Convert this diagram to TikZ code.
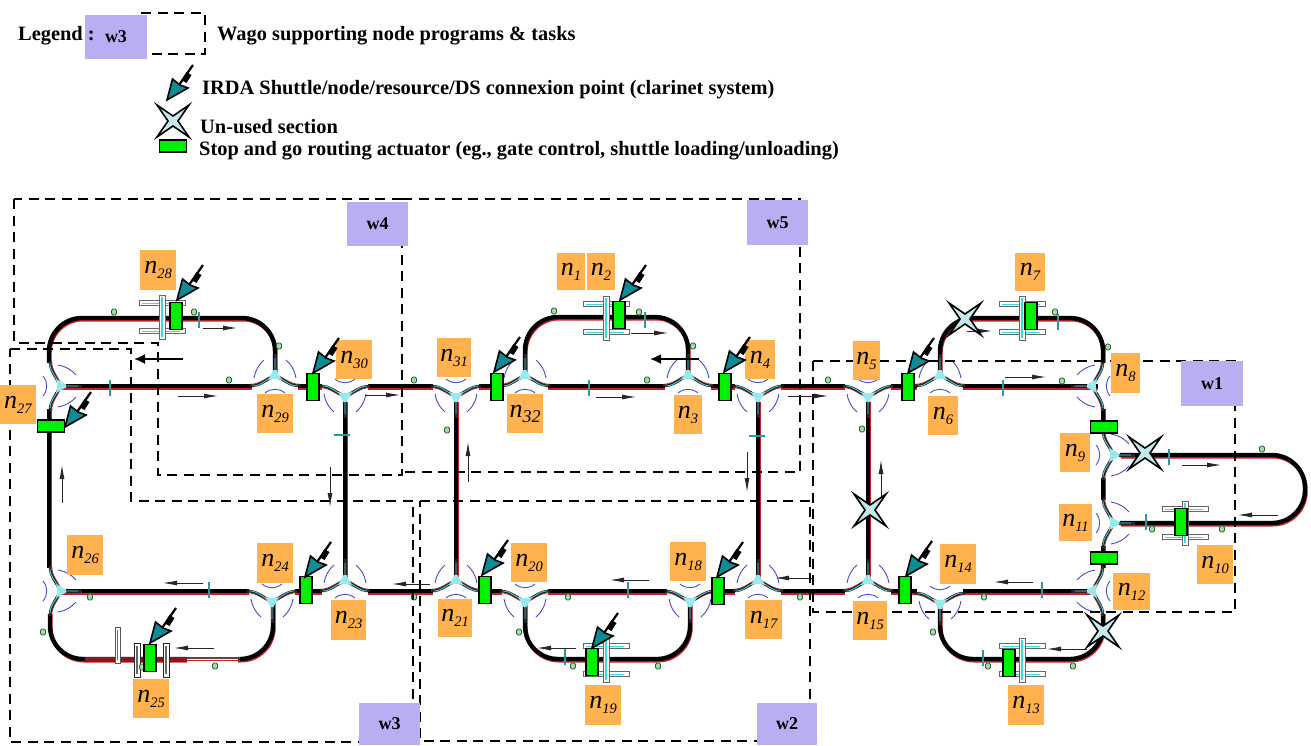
\documentclass[tikz,border=0pt]{standalone}
\usepackage{fontspec}
\setmainfont{Liberation Serif}
\usetikzlibrary{arrows.meta}
\definecolor{lilac}{HTML}{B9AEF2}
\definecolor{orng}{HTML}{FFB24D}
\definecolor{tealf}{HTML}{0E8C96}
\definecolor{starf}{HTML}{C5E8EC}
\definecolor{actg}{HTML}{00F000}
\definecolor{cyn}{HTML}{3FD8E0}
\definecolor{tkred}{HTML}{C8202A}
\definecolor{arcb}{HTML}{4A4AC8}
\definecolor{gblob}{HTML}{2E9A3A}
\tikzset{
  tkb/.style={draw=black,line width=4.4pt,rounded corners=33pt},
  tkr/.style={draw=tkred,line width=3.6pt,rounded corners=33pt,shift={(0.9,1.7)}},
  wbox/.style={draw=black,line width=2.1pt,dash pattern=on 10pt off 6.5pt},
  wlab/.style={fill=lilac,inner sep=0pt,font=\fontsize{18}{18}\selectfont\bfseries},
  olab/.style={fill=orng,inner sep=0pt,text=black},
  legt/.style={anchor=west,inner sep=0pt,font=\fontsize{20.4}{21}\selectfont\bfseries},
  act/.style={draw=black,fill=actg,line width=1.7pt},
  thinarr/.style={draw=black!85,line width=0.8pt,-{Latex[length=14pt,width=5pt]}},
  thickarr/.style={draw=black,line width=1.8pt,-{Latex[length=11pt,width=10pt]}},
  arcj/.style={draw=arcb,line width=0.9pt},
}
\newcommand\junc[3]{\begin{scope}[shift={(#1,#2)},rotate=#3]
  \fill[white] (-23,-15) rectangle (23,-5);
  \draw[tkred,line width=0.8pt] (-25,-8.3) .. controls (-14,-8.3) and (-9,-0.8) .. (0,1.2) .. controls (9,-0.8) and (14,-8.3) .. (25,-8.3);
  \draw[black!85,line width=2.8pt] (-25,-10) .. controls (-14,-10) and (-9,-3) .. (0,0) .. controls (9,-3) and (14,-10) .. (25,-10);
  \draw[black!85,line width=3pt] (0,-2) -- (0,22);
  \draw[cyn,line width=0.8pt] (-22,-10) .. controls (-14,-10) and (-9,-3) .. (0,0) .. controls (9,-3) and (14,-10) .. (22,-10) (0,-2) -- (0,18);
  \fill[cyn!55!white] (-7,-4) .. controls (-3,-2.5) and (3,-2.5) .. (7,-4) -- (1.5,6) -- (-1.5,6) -- cycle;
  \draw[arcj] (-10,-17) .. controls (-4,-12) and (4,-12) .. (10,-17);
  \draw[arcj] (-21,-2) .. controls (-20,5) and (-16,12) .. (-11,16);
  \draw[arcj] (21,-2) .. controls (20,5) and (16,12) .. (11,16);
\end{scope}}
\newcommand\swt[2]{\begin{scope}[shift={(#1,#2)}]
  \foreach \s in {-14,14}{\draw[black!60,fill=white,line width=1pt] (-23,\s-2.5) rectangle (23,\s+2.5);
    \draw[cyn,line width=1pt] (-20,\s) -- (18,\s);}
  \draw[black!60,line width=1pt,fill=white] (-3,-22) rectangle (3,22);
  \draw[cyn,line width=1.4pt] (0,-20) -- (0,20);
\end{scope}}
\newcommand\irda[2]{\begin{scope}[shift={(#1,#2)}]
  \draw[black,line width=2.2pt] (12,-15) -- (26,-35);
  \fill[black] (14.5,-20) -- (19.5,-17) -- (24.5,-25) -- (19.5,-28) -- cycle;
  \draw[black,line width=1.6pt,fill=tealf,line join=miter] (0,0) -- (5.5,-21) -- (13,-15) -- (21,-12) -- cycle;
\end{scope}}
\newcommand\starm[3]{\node[inner sep=0pt,minimum size=0pt] (#3) at (#1,#2) {};
  \draw[black,line width=1.6pt,fill=starf,miter limit=10] (#1-16,#2-16) -- (#1,#2-5) -- (#1+16,#2-16) -- (#1+5,#2) -- (#1+16,#2+16) -- (#1,#2+5) -- (#1-16,#2+16) -- (#1-5,#2) -- cycle;}
\newcommand\actv[3]{\node[act,minimum width=11.5pt,minimum height=27pt,inner sep=0pt] (#3) at (#1,#2) {};}
\newcommand\acth[3]{\node[act,minimum width=27pt,minimum height=11.5pt,inner sep=0pt] (#3) at (#1,#2) {};}
\newcommand\lbl[6]{\node[olab,anchor=center,minimum width=#3-#1,minimum height=#4-#2] (#5) at ({(#1+#3)/2},{(#2+#4)/2}) {\fontsize{26}{26}\selectfont\itshape n\raisebox{-5pt}{\fontsize{14.5}{16}\selectfont #6}};}
\newcommand\wl[6]{\node[wlab,minimum width=#3-#1,minimum height=#4-#2] (#5) at ({(#1+#3)/2},{(#2+#4)/2}) {#6};}
\begin{document}
\begin{tikzpicture}[x=1pt,y=-1pt]
\useasboundingbox (0,0) rectangle (1311,745);
% tracks
\foreach \st in {tkr,tkb}{
  \draw[\st,rounded corners=0pt] (60,386) -- (1103,386);
  \draw[\st,rounded corners=0pt] (60,591) -- (1093,591);
  \draw[\st,rounded corners=0pt] (49,400) -- (49,580);
  \draw[\st,rounded corners=0pt] (345,400) -- (345,578);
  \draw[\st,rounded corners=0pt] (456,400) -- (456,578);
  \draw[\st,rounded corners=0pt] (758,400) -- (758,578);
  \draw[\st,rounded corners=0pt] (868,400) -- (868,578);
  \draw[\st,rounded corners=0pt] (1103,380) -- (1103,600);
  \draw[\st] (49,395) -- (49,318) -- (275,318) -- (275,375);
  \draw[\st] (50,600) -- (50,659) -- (273,659) -- (273,600);
  \draw[\st] (525,375) -- (525,317) -- (688,317) -- (688,375);
  \draw[\st] (525,600) -- (525,659) -- (690,659) -- (690,600);
  \draw[\st] (940,375) -- (940,318) -- (1103,318) -- (1103,380);
  \draw[\st] (940,600) -- (940,659) -- (1103,659) -- (1103,600);
  \draw[\st] (1120,455) -- (1305,455) -- (1305,523) -- (1120,523);
}
\draw[tkred!70!black,line width=5pt] (85,659) -- (187,659);
\fill[white] (187,656) rectangle (238,663);
\draw[black!70,line width=1.5pt] (187,658) -- (240,658);
\draw[tkred,line width=0.8pt] (187,660) -- (240,660);
% junctions
\foreach \x/\y/\r in {60/386/90,60/591/90,275/376/180,272/601/0,345/396/0,456/396/0,
  525/376/180,690/601/0,688/376/180,525/601/0,758/396/0,868/396/0,940/376/180,
  940/603/0,345/581/180,456/581/180,758/581/180,868/581/180,
  1093/386/-90,1093/591/-90,1113/455/90,1113/523/90}{\junc{\x}{\y}{\r}}
% switches
\swt{162}{317}\swt{606}{318}\swt{1022}{318}\swt{1185}{523}\swt{1022}{660}\swt{606}{660}
\draw[black!65,line width=0.9pt,fill=white] (115,627) rectangle (120,663);
\draw[tealf,line width=1.2pt] (117.5,630) -- (117.5,660);
\foreach \x in {137,166}{\draw[black!85,line width=1pt,fill=white] (\x-3,643) rectangle (\x+3,677);
  \draw[black!60,line width=1.2pt] (\x,646) -- (\x,674);}
% small track details
\foreach \x/\y in {114/312,229/380,279/346,194/312,414/380,828/380,554/311,639/312,647/380,693/346,
  1055/312,1062/381,1108/347,1262/449,1152/529,1222/529,984/597,1073/666,988/666,933/632,
  90/597,215/666,142/667,43/632,414/597,519/632,573/666,658/666,568/597,800/597,
  862/429,447/430}{
  \draw[gblob!70!black,line width=0.9pt,fill=gblob!40!white,rounded corners=1.5pt] (\x-2.5,\y-3) rectangle (\x+2.5,\y+3);}
\foreach \x/\y in {110/388,199/320,589/388,645/320,1058/322,1003/388,1169/457,1146/522,
  1042/590,983/658,628/590,209/590,565/657}{
  \draw[cyn!70!black,line width=1.8pt] (\x,\y-8) -- (\x,\y+8);}
\foreach \x/\y in {342/435,757/436}{\draw[cyn!70!black,line width=1.8pt] (\x-8,\y) -- (\x+8,\y);}
% dashed regions
\draw[wbox] (141,13) -- (205,13) -- (205,54) -- (150,54);
\draw[wbox] (14,199) -- (14,343) -- (158,343) -- (158,475) -- (402,475) -- (402,199) -- cycle;
\draw[wbox] (402,199) -- (800,199) -- (800,472) -- (402,472);
\draw[wbox] (10,349) -- (131,349) -- (131,501) -- (413,501) -- (413,742) -- (10,742) -- cycle;
\draw[wbox] (420,501) -- (810,501) -- (810,741) -- (420,741) -- cycle;
\draw[wbox] (813,361) -- (1235,361) -- (1235,612) -- (813,612) -- cycle;
% work-station labels
\wl{85}{15}{147}{59}{wleg}{w3}
\wl{347}{202}{408}{246}{wfour}{w4}
\wl{747}{200}{808}{245}{wfive}{w5}
\wl{1181}{361}{1243}{406}{wone}{w1}
\wl{359}{703}{420}{745}{wthree}{w3}
\wl{757}{703}{817}{745}{wtwo}{w2}
% node labels
\lbl{140}{250}{176}{290}{n28}{28}
\lbl{557}{253}{585}{290}{n1}{1}
\lbl{587}{253}{615}{290}{n2}{2}
\lbl{1015}{253}{1045}{291}{n7}{7}
\lbl{336}{340}{372}{379}{n30}{30}
\lbl{437}{338}{471}{377}{n31}{31}
\lbl{507}{394}{543}{433}{n32}{\fontsize{18}{18}\selectfont 32}
\lbl{745}{340}{775}{379}{n4}{4}
\lbl{674}{395}{702}{434}{n3}{3}
\lbl{853}{341}{880}{380}{n5}{5}
\lbl{928}{396}{958}{435}{n6}{6}
\lbl{1111}{353}{1140}{393}{n8}{8}
\lbl{1060}{433}{1090}{472}{n9}{9}
\lbl{1059}{504}{1092}{541}{n11}{11}
\lbl{1197}{545}{1233}{584}{n10}{10}
\lbl{1113}{573}{1150}{610}{n12}{12}
\lbl{940}{544}{976}{584}{n14}{14}
\lbl{1008}{685}{1044}{725}{n13}{13}
\lbl{853}{601}{887}{640}{n15}{15}
\lbl{745}{600}{782}{639}{n17}{17}
\lbl{670}{542}{706}{581}{n18}{18}
\lbl{585}{685}{621}{725}{n19}{19}
\lbl{511}{543}{547}{582}{n20}{20}
\lbl{438}{599}{472}{637}{n21}{21}
\lbl{331}{600}{366}{640}{n23}{23}
\lbl{257}{543}{293}{583}{n24}{24}
\lbl{133}{679}{169}{718}{n25}{25}
\lbl{67}{535}{103}{575}{n26}{26}
\lbl{0}{385}{36}{424}{n27}{27}
\lbl{257}{394}{293}{433}{n29}{29}
% direction arrows
\coordinate (a1s) at (183,359); \coordinate (a1e) at (134,359);
\coordinate (a2s) at (699,359); \coordinate (a2e) at (650,359);
\draw[thickarr] (a1s) -- (a1e);
\draw[thickarr] (a2s) -- (a2e);
\foreach \xa/\ya/\xb/\yb in {203/328/237/328,178/396/218/396,365/395/400/395,596/397/636/397,
  788/396/828/396,1005/377/1046/377,631/333/668/333,330/467/330/507,468/482/468/442,747/452/747/492,881/497/881/460,
  62/503/62/465,1182/465/1221/465,1278/515/1238/515,1033/582/994/582,1087/649/1047/649,
  649/580/610/580,576/648/537/648,430/584/392/584,203/583/163/583,813/578/775/578,214/648/174/648,967/331/992/331}{
  \draw[thinarr] (\xa,\ya) -- (\xb,\yb);}
% actuators
\actv{176}{316}{a28}\actv{313}{387}{a30}\actv{497}{387}{a31}\actv{619}{315}{a2}\actv{725}{387}{a4}
\actv{908}{387}{a6}\actv{1031}{316}{a7}\acth{1104}{427}{a9}\acth{1104}{558}{a12}\actv{1181}{522}{a10}
\actv{905}{590}{a14}\actv{1009}{663}{a13}\actv{718}{591}{a18}\actv{592}{662}{a19}\actv{485}{590}{a20}
\actv{306}{590}{a24}\actv{150}{658}{a25}\acth{51}{426}{a27}\acth{173}{146}{aleg}
% IRDA points
\irda{177}{300}\irda{313}{373}\irda{494}{372}\irda{620}{300}\irda{724}{372}\irda{908}{373}
\irda{906}{576}\irda{717}{577}\irda{592}{648}\irda{482}{575}\irda{305}{577}\irda{150}{643}\irda{65}{427}
\irda{167}{100}
% stars
\starm{965}{319}{s1}\starm{1145}{453}{s2}\starm{870}{510}{s3}\starm{1103}{631}{s4}\starm{173}{121}{sleg}
% legend text
\node[legt] (t0) at (18,36) {Legend :};
\node[legt] (t1) at (217,36) {Wago supporting node programs \& tasks};
\node[legt] (t2) at (202,90) {IRDA Shuttle/node/resource/DS connexion point (clarinet system)};
\node[legt] (t3) at (200,127) {Un-used section};
\node[legt] (t4) at (199,151) {Stop and go routing actuator (eg., gate control, shuttle loading/unloading)};
\end{tikzpicture}
\end{document}
